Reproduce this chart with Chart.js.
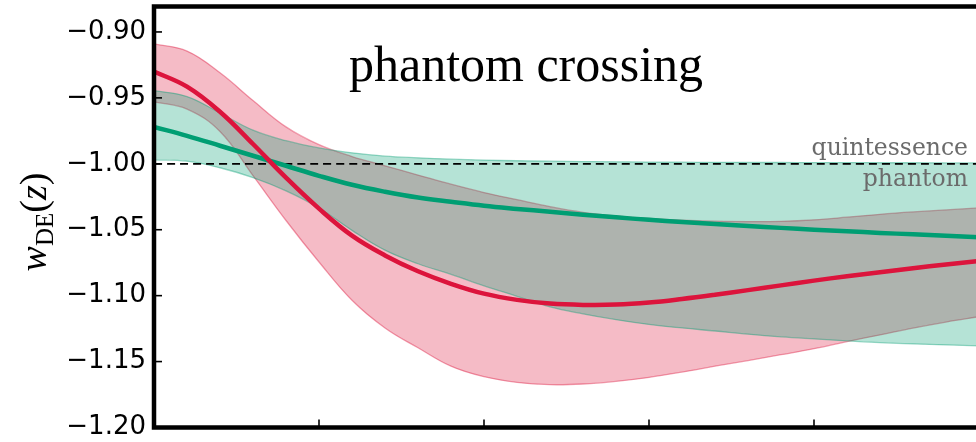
<!DOCTYPE html>
<html>
<head>
<meta charset="utf-8">
<script src="https://cdn.jsdelivr.net/npm/chart.js@4.4.1/dist/chart.umd.min.js"></script>
<style>
  html, body { margin: 0; padding: 0; background: #fff; overflow: hidden; }
  #wrap { width: 984px; height: 442px; }
</style>
</head>
<body>
<div id="wrap"><canvas id="chart" width="984" height="442"></canvas></div>
<script>
// redshift grid
const zGrid = [0.0, 0.1, 0.2, 0.3, 0.4, 0.5, 0.6, 0.7, 0.8, 0.9, 1.0, 1.1, 1.2,
               1.3, 1.4, 1.5, 1.6, 1.7, 1.8, 1.9, 2.0, 2.1, 2.2, 2.3, 2.4, 2.5];

// phantom crossing model (red)
const redMid = [-0.930, -0.9415, -0.9605, -0.985, -1.0105, -1.034, -1.0545, -1.0695, -1.0815,
                -1.091, -1.0985, -1.1032, -1.106, -1.107, -1.1068, -1.1052, -1.1025, -1.0993,
                -1.0958, -1.0922, -1.0886, -1.0853, -1.0822, -1.0792, -1.0764, -1.0738];
const redUpper = [-0.909, -0.9145, -0.931, -0.952, -0.972, -0.9855, -0.9945, -1.0015, -1.0085,
                  -1.0155, -1.0218, -1.0272, -1.0325, -1.0368, -1.0395, -1.0415, -1.0428, -1.0435,
                  -1.0438, -1.0436, -1.0425, -1.0405, -1.0383, -1.0365, -1.035, -1.0335];
const redLower = [-0.953, -0.9585, -0.9755, -1.009, -1.043, -1.0745, -1.1035, -1.1245, -1.1395,
                  -1.1535, -1.1615, -1.1658, -1.1675, -1.167, -1.165, -1.162, -1.158, -1.1535,
                  -1.1492, -1.1448, -1.1402, -1.1348, -1.1298, -1.1246, -1.1200, -1.1160];

// second model (green)
const greenMid = [-0.972, -0.9788, -0.9863, -0.9939, -1.0015, -1.0091, -1.0159, -1.0212, -1.0256,
                  -1.0288, -1.0318, -1.0342, -1.0364, -1.0386, -1.0406, -1.0425, -1.0441, -1.0456,
                  -1.0471, -1.0486, -1.0500, -1.0512, -1.0524, -1.0535, -1.0546, -1.0557];
const greenUpper = [-0.9445, -0.949, -0.9615, -0.9745, -0.9825, -0.988, -0.9917, -0.9942, -0.9955,
                    -0.9965, -0.9972, -0.9977, -0.998, -0.9983, -0.9985, -0.9987, -0.9988, -0.9989,
                    -0.999, -0.999, -0.9991, -0.9991, -0.9992, -0.9992, -0.9993, -0.9993];
const greenLower = [-0.997, -0.998, -1.003, -1.0105, -1.0205, -1.0335, -1.0505, -1.0655, -1.0758,
                    -1.0838, -1.0925, -1.1005, -1.1085, -1.1138, -1.1182, -1.1218, -1.1245, -1.1268,
                    -1.1292, -1.1312, -1.1328, -1.1343, -1.1356, -1.1366, -1.1374, -1.1381];

const wDivide = -1.0;
const yTicks = [-1.20, -1.15, -1.10, -1.05, -1.00, -0.95, -0.90];
const xTicks = [0.5, 1.0, 1.5, 2.0];

const RED = '#DC143C';
const GREEN = 'rgb(0,158,115)';

const pts = arr => zGrid.map((z, i) => ({ x: z, y: arr[i] }));

const lineBase = {
  pointRadius: 0,
  tension: 0.4,
  fill: false
};

// spines, inward ticks and the text on the plot
const decorations = {
  id: 'decorations',
  afterDraw(chart) {
    const { ctx, chartArea: a, scales } = chart;
    const xs = scales.x, ys = scales.y;
    ctx.save();

    // ticks pointing in
    ctx.strokeStyle = '#000';
    ctx.lineWidth = 1.6;
    ys.ticks.forEach(t => {
      const py = ys.getPixelForValue(t.value);
      ctx.beginPath(); ctx.moveTo(a.left, py); ctx.lineTo(a.left + 8, py); ctx.stroke();
    });
    xs.ticks.forEach(t => {
      const px = xs.getPixelForValue(t.value);
      ctx.beginPath(); ctx.moveTo(px, a.bottom); ctx.lineTo(px, a.bottom - 8); ctx.stroke();
    });

    // frame
    ctx.lineWidth = 4.5;
    ctx.strokeRect(a.left, a.top, a.right - a.left, a.bottom - a.top);

    // title in the plot
    ctx.fillStyle = '#000';
    ctx.font = '50px "Liberation Serif"';
    ctx.textAlign = 'center';
    ctx.textBaseline = 'alphabetic';
    ctx.fillText('phantom crossing', 526, 81);

    // region labels beside w = -1
    const py = ys.getPixelForValue(wDivide);
    ctx.fillStyle = '#6b6b6b';
    ctx.font = '23.5px "DejaVu Serif"';
    ctx.textAlign = 'right';
    ctx.fillText('quintessence', 968, py - 9);
    ctx.fillText('phantom', 968, py + 22);

    // y axis label  w_DE(z)
    ctx.translate(46, 222);
    ctx.rotate(-Math.PI / 2);
    ctx.fillStyle = '#000';
    ctx.textAlign = 'left';
    const parts = [
      { t: 'w', f: 'italic 38px "Liberation Serif"', dy: 0 },
      { t: 'DE', f: '25px "Liberation Serif"', dy: 7 },
      { t: '(', f: '38px "Liberation Serif"', dy: 0 },
      { t: 'z', f: 'italic 38px "Liberation Serif"', dy: 0 },
      { t: ')', f: '38px "Liberation Serif"', dy: 0 }
    ];
    let total = 0;
    parts.forEach(p => { ctx.font = p.f; p.w = ctx.measureText(p.t).width; total += p.w; });
    let cx = -total / 2;
    parts.forEach(p => { ctx.font = p.f; ctx.fillText(p.t, cx, p.dy); cx += p.w; });

    ctx.restore();
  }
};

new Chart(document.getElementById('chart'), {
  type: 'line',
  data: {
    datasets: [
      { ...lineBase, data: pts(redMid), borderColor: RED, borderWidth: 4.5, order: 0 },
      { ...lineBase, data: pts(greenMid), borderColor: GREEN, borderWidth: 4.5, order: 1 },
      { ...lineBase, data: [{ x: 0, y: wDivide }, { x: 2.5, y: wDivide }],
        borderColor: '#000', borderWidth: 1.8, borderDash: [8, 5], order: 2 },
      { ...lineBase, data: pts(greenUpper), fill: '+1', backgroundColor: 'rgba(0,158,115,0.29)',
        borderColor: 'rgba(0,158,115,0.4)', borderWidth: 1.3, order: 3 },
      { ...lineBase, data: pts(greenLower), borderColor: 'rgba(0,158,115,0.4)', borderWidth: 1.3, order: 4 },
      { ...lineBase, data: pts(redUpper), fill: '+1', backgroundColor: 'rgba(220,20,60,0.29)',
        borderColor: 'rgba(220,20,60,0.4)', borderWidth: 1.3, order: 5 },
      { ...lineBase, data: pts(redLower), borderColor: 'rgba(220,20,60,0.4)', borderWidth: 1.3, order: 6 }
    ]
  },
  options: {
    responsive: false,
    animation: false,
    devicePixelRatio: 1,
    layout: { padding: { top: 6.5, right: 5, left: 0, bottom: 0 } },
    plugins: { legend: { display: false }, tooltip: { enabled: false } },
    scales: {
      x: {
        type: 'linear',
        min: 0,
        max: 2.5,
        afterBuildTicks: s => { s.ticks = xTicks.map(v => ({ value: v })); },
        afterFit: s => { s.height = 14.5; s.paddingLeft = 0; s.paddingRight = 0; },
        ticks: { display: false },
        grid: { display: false },
        border: { display: false }
      },
      y: {
        min: -1.20,
        max: -0.8807,
        afterBuildTicks: s => { s.ticks = yTicks.map(v => ({ value: v })); },
        afterFit: s => { s.width = 154; s.paddingTop = 0; s.paddingBottom = 0; },
        ticks: {
          color: '#000',
          padding: 8,
          font: { family: '"DejaVu Sans"', size: 26 },
          callback: v => (v < 0 ? '\u2212' : '') + Math.abs(v).toFixed(2)
        },
        grid: { display: false, drawTicks: false },
        border: { display: false }
      }
    }
  },
  plugins: [decorations]
});
</script>
</body>
</html>
